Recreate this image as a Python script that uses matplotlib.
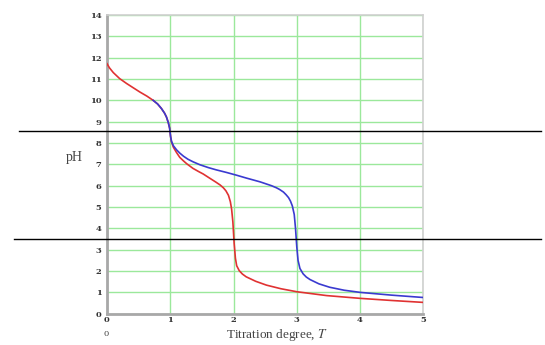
import matplotlib
matplotlib.use("Agg")
import matplotlib.pyplot as plt
from matplotlib.lines import Line2D

plt.rcParams["mathtext.fontset"] = "stix"

# titration curves, T (degree) vs pH
red_T = [0.0, 0.04, 0.10, 0.20, 0.31, 0.42, 0.52, 0.63, 0.73, 0.80, 0.86, 0.91,
         0.94, 0.97, 0.99, 1.006, 1.02, 1.05, 1.10, 1.15, 1.21, 1.26, 1.36, 1.45,
         1.52, 1.63, 1.72, 1.79, 1.84, 1.88, 1.92, 1.95, 1.97, 1.99, 2.01, 2.03,
         2.05, 2.09, 2.14, 2.20, 2.35, 2.52, 2.75, 3.0, 3.47, 4.0, 4.5, 5.0]
red_pH = [11.72, 11.52, 11.30, 11.02, 10.79, 10.58, 10.39, 10.20, 10.0, 9.83, 9.62, 9.40,
          9.22, 8.95, 8.70, 8.29, 8.05, 7.80, 7.55, 7.33, 7.16, 7.03, 6.81, 6.66,
          6.55, 6.34, 6.17, 6.03, 5.90, 5.76, 5.55, 5.25, 4.9, 4.3, 3.3, 2.6,
          2.25, 2.02, 1.86, 1.73, 1.52, 1.34, 1.17, 1.03, 0.85, 0.72, 0.62, 0.53]

blue_T = [0.73, 0.80, 0.86, 0.91, 0.94, 0.97, 0.99, 1.006, 1.02, 1.05, 1.10, 1.15,
          1.21, 1.28, 1.36, 1.47, 1.60, 1.73, 1.89, 2.05, 2.20, 2.31, 2.42, 2.52,
          2.60, 2.68, 2.73, 2.79, 2.83, 2.87, 2.90, 2.93, 2.96, 2.98, 3.0, 3.02,
          3.05, 3.10, 3.15, 3.21, 3.35, 3.52, 3.75, 4.0, 4.5, 5.0]
blue_pH = [10.0, 9.83, 9.62, 9.40, 9.22, 8.95, 8.70, 8.29, 8.08, 7.87, 7.68, 7.53,
           7.38, 7.24, 7.12, 6.98, 6.85, 6.74, 6.62, 6.49, 6.36, 6.27, 6.18, 6.08,
           6.0, 5.90, 5.82, 5.70, 5.58, 5.44, 5.28, 5.05, 4.65, 4.0, 3.14, 2.50,
           2.12, 1.87, 1.72, 1.60, 1.40, 1.24, 1.10, 1.0, 0.87, 0.76]

x_ticks = [0, 1, 2, 3, 4, 5]
y_ticks = list(range(0, 15))

fig = plt.figure(figsize=(5.45, 3.45), dpi=100)
ax = fig.add_axes([0.1963, 0.0907, 0.5804, 0.8658])

ax.plot(red_T, red_pH, color="#e03232", lw=1.2, zorder=3)
ax.plot(blue_T, blue_pH, color="#3a3ad0", lw=1.2, zorder=4)

ax.set_xlim(0, 5)
ax.set_ylim(0, 14)
ax.set_xticks(x_ticks)
ax.set_yticks(y_ticks)
ax.grid(True, color="#9be89b", lw=1.0, zorder=1)
ax.tick_params(length=0, labelsize=6, colors="#333333", pad=4)
ax.tick_params(axis="x", pad=2)
for lab in ax.get_xticklabels() + ax.get_yticklabels():
    lab.set_family("DejaVu Serif")
    lab.set_fontweight("bold")

for side in ("left", "bottom"):
    ax.spines[side].set_color("#a8a8a8")
    ax.spines[side].set_linewidth(2.0)
for side in ("top", "right"):
    ax.spines[side].set_color("#d0d0d0")
    ax.spines[side].set_linewidth(1.2)

fig.text(277 / 545, 1 - 335 / 345, "Titration degree, $T$", family="Liberation Serif",
         fontsize=9.5, color="#444444", ha="center", va="center")
fig.text(74 / 545, 1 - 158 / 345, "pH", family="Liberation Serif",
         fontsize=10, color="#444444", ha="center", va="center")
fig.text(106 / 545, 1 - 334 / 345, "0", family="DejaVu Serif",
         fontsize=6, color="#444444", ha="center", va="center")

# two horizontal rules across the figure
fig.add_artist(Line2D([19 / 545, 541 / 545], [1 - 131 / 345] * 2,
                      color="black", lw=1.0))
fig.add_artist(Line2D([14 / 545, 541 / 545], [1 - 239 / 345] * 2,
                      color="black", lw=1.0))

fig.savefig("out.png", dpi=100)
